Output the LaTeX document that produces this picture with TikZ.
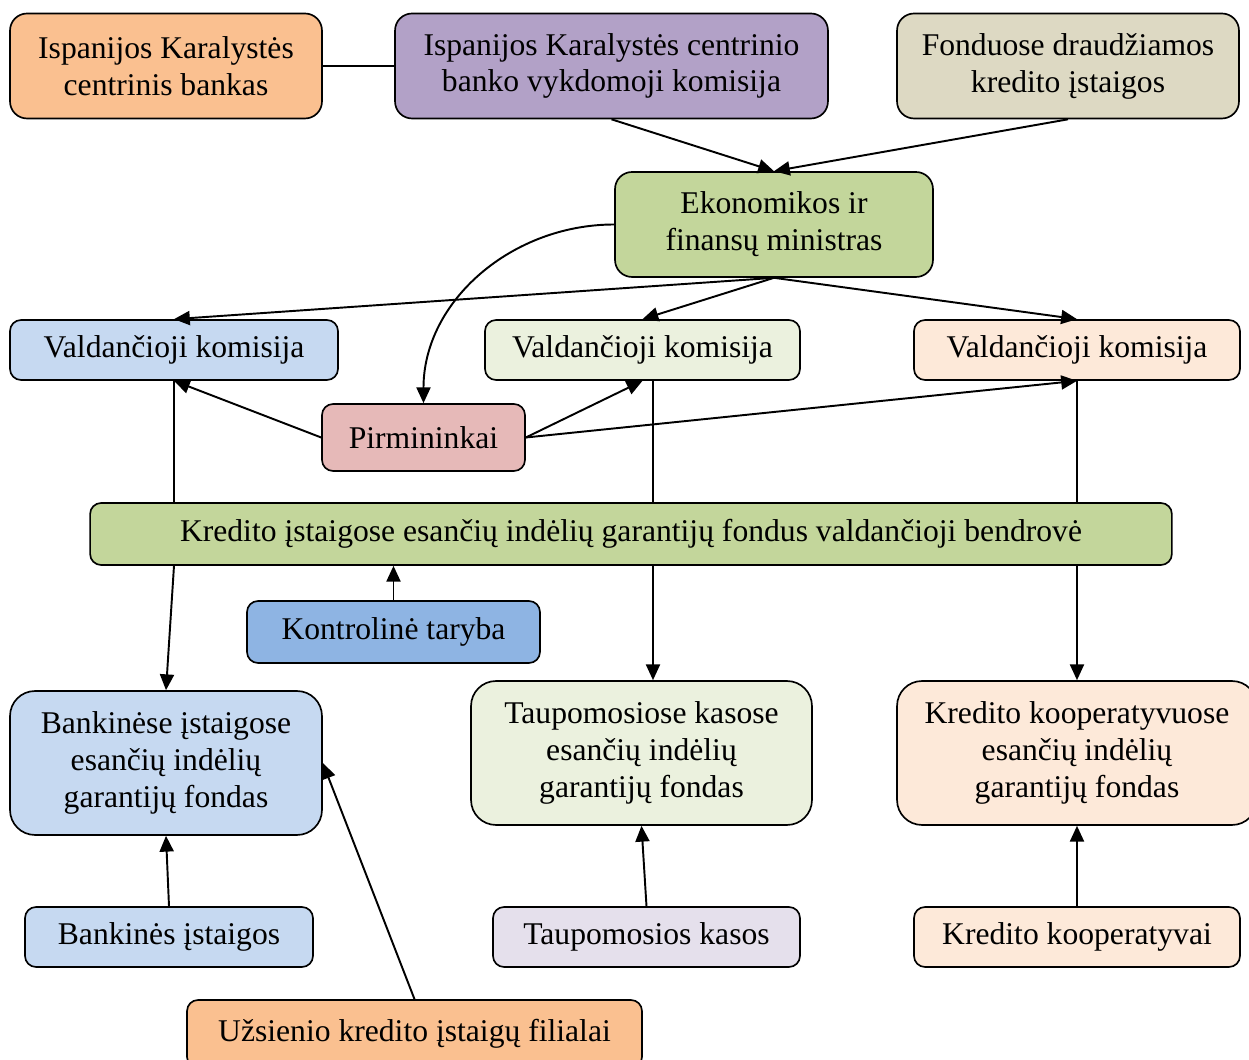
\documentclass[tikz,border=0pt]{standalone}
\usepackage{fontspec}
\setmainfont{Liberation Serif}
\usetikzlibrary{arrows.meta, calc}
\definecolor{bankorange}{HTML}{FAC090}
\definecolor{execpurple}{HTML}{B2A1C7}
\definecolor{insuredtan}{HTML}{DDD9C3}
\definecolor{ministrygreen}{HTML}{C3D69B}
\definecolor{bankblue}{HTML}{C6D9F1}
\definecolor{savinggreen}{HTML}{EBF1DE}
\definecolor{cooppeach}{HTML}{FDE9D9}
\definecolor{chairpink}{HTML}{E6B9B8}
\definecolor{councilblue}{HTML}{8EB4E3}
\definecolor{savinglilac}{HTML}{E5E0EC}
\tikzset{
  box/.style   = {rectangle, rounded corners=0.22cm, draw=black, line width=0.95pt,
                  align=center, font=\fontsize{18}{21}\selectfont, inner sep=2pt},
  head/.style  = {box, rounded corners=0.34cm, minimum height=2.1cm},
  board/.style = {box, minimum height=1.2cm},
  fund/.style  = {box, rounded corners=0.5cm, minimum height=2.88cm},
  flow/.style  = {line width=1.1pt, -{Triangle[length=9pt,width=8pt]}},
  link/.style  = {line width=0.75pt},
}
\begin{document}
\begin{tikzpicture}[x=0.02cm, y=-0.02cm]
\useasboundingbox (0,0) rectangle (1249,1060);

% Top row
\node (cbank) [head, fill=bankorange, minimum width=6.24cm] at (166,66)
  {Ispanijos Karalystės\\centrinis bankas};
\node (exec) [head, fill=execpurple, minimum width=8.66cm] at (611.5,66)
  {Ispanijos Karalystės centrinio\\banko vykdomoji komisija};
\node (insured) [head, fill=insuredtan, minimum width=6.84cm] at (1068,66)
  {Fonduose draudžiamos\\kredito įstaigos};
\node (minister) [head, fill=ministrygreen, minimum width=6.36cm] at (774,224.5)
  {Ekonomikos ir\\finansų ministras};

% Governing boards
\node (boardL) [board, fill=bankblue, minimum width=6.56cm] at (174,350) {Valdančioji komisija};
\node (boardM) [board, fill=savinggreen, minimum width=6.3cm] at (642.5,350) {Valdančioji komisija};
\node (boardR) [board, fill=cooppeach, minimum width=6.52cm] at (1077,350) {Valdančioji komisija};
\node (chairs) [box, fill=chairpink, minimum width=4.06cm, minimum height=1.34cm] at (423.5,437.5) {Pirmininkai};

% Managing company and council
\node (company) [board, fill=ministrygreen, minimum width=21.64cm, minimum height=1.24cm] at (631,534)
  {Kredito įstaigose esančių indėlių garantijų fondus valdančioji bendrovė};
\node (council) [board, fill=councilblue, minimum width=5.86cm, minimum height=1.24cm] at (393.5,632) {Kontrolinė taryba};

% Funds
\node (fundB) [fund, fill=bankblue, minimum width=6.24cm] at (166,763)
  {Bankinėse įstaigose\\esančių indėlių\\garantijų fondas};
\node (fundS) [fund, fill=savinggreen, minimum width=6.82cm] at (641.5,753)
  {Taupomosiose kasose\\esančių indėlių\\garantijų fondas};
\node (fundC) [fund, fill=cooppeach, minimum width=7.2cm] at (1077,753)
  {Kredito kooperatyvuose\\esančių indėlių\\garantijų fondas};

% Members
\node (banks) [board, fill=bankblue, minimum width=5.76cm] at (169,937) {Bankinės įstaigos};
\node (savings) [board, fill=savinglilac, minimum width=6.14cm] at (646.5,937) {Taupomosios kasos};
\node (coops) [board, fill=cooppeach, minimum width=6.52cm] at (1077,937) {Kredito kooperatyvai};
\node (branches) [board, fill=bankorange, minimum width=9.1cm, minimum height=1.36cm] at (414.5,1034)
  {Užsienio kredito įstaigų filialai};

% Flows at the top
\draw [link] (cbank) -- (exec);
\draw [flow] (exec.south) -- (minister.north);
\draw [flow] (insured.south) -- (minister.north);
\draw [flow] (minister.west) to[out=180,in=90] (chairs.north);
\draw [flow] (minister.south) -- (boardL.north);
\draw [flow] (minister.south) -- (boardM.north);
\draw [flow] (minister.south) -- (boardR.north);
\draw [flow] (chairs.west) -- (boardL.south);
\draw [flow] (chairs.east) -- (boardM.south);
\draw [flow] (chairs.east) -- (boardR.south);

% Boards down to the company
\draw [link] (boardL.south) -- (boardL.south |- company.north);
\draw [link] ([xshift=0.21cm]boardM.south) -- ([xshift=0.21cm]boardM.south |- company.north);
\draw [link] (boardR.south) -- (boardR.south |- company.north);
\draw [flow] (council.north) -- (council.north |- company.south);

% Company down to the funds
\draw [flow] (boardL.south |- company.south) -- (fundB.north);
\draw [flow] ([xshift=0.21cm]boardM.south |- company.south) -- ([xshift=0.21cm]boardM.south |- fundS.north);
\draw [flow] (boardR.south |- company.south) -- (fundC.north);

% Members up to the funds
\draw [flow] (banks.north) -- (fundB.south);
\draw [flow] (savings.north) -- (fundS.south);
\draw [flow] (coops.north) -- (fundC.south);
\draw [flow] (branches.north) -- (fundB.east);

\end{tikzpicture}
\end{document}
